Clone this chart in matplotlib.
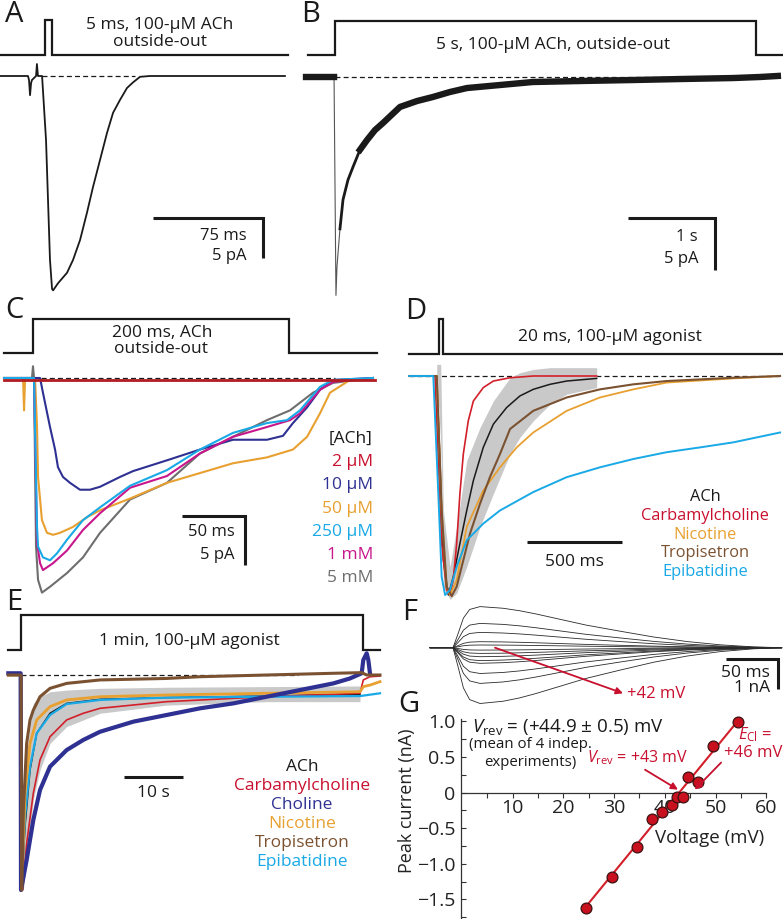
import numpy as np
import matplotlib.pyplot as plt

plt.rcParams['font.family'] = ['Open Sans', 'DejaVu Sans']
plt.rcParams['mathtext.fontset'] = 'custom'
plt.rcParams['mathtext.rm'] = 'Open Sans'
plt.rcParams['mathtext.it'] = 'Open Sans:italic'

# ---- data ----
# A: 5 ms pulse of ACh (ms, pA)
A_T = [-30.7, -11.6, -10.9, -10.2, -9.5, -8.9, -6.1, -5.5, -4.8, -2.0, 0.7, 3.4, 4.8, 5.5, 8.9,
       15.0, 19.1, 23.9, 28.6, 32.7, 37.5, 42.3, 46.4, 51.1, 55.9, 60.0, 64.8, 71.6, 163.6]
A_I = [0, 0, -0.5, -2.4, -0.9, -0.5, 0, 1.5, 0, 0, -8.0, -23.0, -26.6, -26.8, -25.9,
       -24.6, -23.0, -20.5, -17.1, -13.9, -10.5, -7.1, -4.6, -3.0, -1.5, -0.8, -0.1, 0, 0]
A_STIM = (0, 5)

# B: 5 s application (s, pA)
B_T = [-0.333, -0.011, 0.011, 0.023, 0.057, 0.092, 0.149, 0.207, 0.287, 0.368, 0.46, 0.552,
       0.747, 0.943, 1.126, 1.322, 1.517, 1.897, 2.276, 2.851, 3.425, 4.0, 4.575, 4.885, 5.09]
B_I = [0, 0, -21.0, -18.2, -14.6, -11.8, -9.9, -8.65, -7.0, -6.06, -5.1, -4.42,
       -2.88, -2.31, -1.92, -1.44, -1.06, -0.77, -0.48, -0.38, -0.29, -0.19, -0.1, 0.0, 0.1]
B_STIM = (0, 4.84)

# C: 200 ms ACh, several concentrations (ms, pA)
C_T_2 = [-23.0, 271.4]
C_I_2 = [-0.2, -0.2]
C_T_10 = [-23.0, 5.6, 7.9, 13.5, 17.5, 19.8, 23.8, 29.4, 37.3, 45.2, 53.2, 69.0, 79.4, 106.3,
          132.5, 158.7, 185.7, 198.4, 206.3, 217.5, 227.8, 238.1, 269.8]
C_I_10 = [0, 0, -1.5, -5.0, -7.3, -9.1, -10.1, -10.7, -11.4, -11.4, -11.1, -10.1, -9.5, -8.4,
          -7.3, -6.3, -6.3, -5.9, -4.6, -3.0, -1.2, -0.2, 0]
C_T_50 = [-23.0, -7.9, -7.1, -6.3, 1.6, 3.2, 4.0, 7.1, 11.1, 15.9, 21.4, 31.7, 42.9, 53.2, 77.0,
          106.3, 132.5, 158.7, 185.7, 206.3, 217.5, 227.8, 235.7, 251.6, 269.8]
C_I_50 = [0, 0, -3.3, 0, 0, -5.0, -10.1, -14.5, -15.8, -16.0, -15.8, -15.2, -14.2, -13.5, -12.3,
          -10.7, -9.7, -8.7, -8.1, -7.3, -6.0, -3.6, -1.5, -0.2, 0]
C_T_250 = [-23.0, 0.8, 3.2, 4.0, 7.9, 13.5, 19.0, 27.0, 39.7, 53.2, 77.0, 106.3, 132.5, 158.7,
           185.7, 201.6, 211.9, 227.8, 238.1, 269.8]
C_I_250 = [0, 0, -15.2, -17.2, -18.3, -18.6, -17.9, -16.5, -14.5, -13.2, -11.0, -9.4, -7.3, -5.6,
           -4.6, -4.3, -3.3, -0.9, -0.2, 0]
C_T_1000 = [-23.0, 0.8, 3.2, 5.6, 7.9, 15.9, 27.0, 39.7, 53.2, 77.0, 106.3, 132.5, 158.7, 185.7,
            204.0, 211.9, 227.8, 238.1, 269.8]
C_I_1000 = [0, 0, -16.8, -18.9, -19.6, -18.9, -17.6, -15.5, -13.8, -11.2, -10.0, -7.7, -6.0, -5.0,
            -4.3, -3.6, -1.2, -0.4, 0]
C_T_5000 = [-23.0, -0.8, 0, 0.8, 2.4, 4.0, 7.1, 13.5, 27.0, 39.7, 53.2, 77.0, 106.3, 132.5,
            158.7, 185.7, 204.0, 222.2, 238.1, 269.8]
C_I_5000 = [0, 0, 1.2, 0, -17.2, -20.6, -21.9, -21.3, -19.9, -18.3, -15.8, -12.4, -10.7, -7.7,
            -6.0, -4.3, -3.3, -1.5, -0.5, 0]
C_STIM = (0, 203)
C_LABELS = ['2 \u03bcM', '10 \u03bcM', '50 \u03bcM', '250 \u03bcM', '1 mM', '5 mM']

# D: 20 ms pulses of agonists, normalised current (ms)
D_T_ACH = [-156, -12, 5, 23, 49, 75, 110, 146, 181, 233, 286, 356, 426, 496, 584, 672, 830]
D_I_ACH = [0, 0, -0.386, -0.841, -1.0, -0.917, -0.765, -0.614, -0.477, -0.326, -0.22, -0.144,
           -0.091, -0.061, -0.038, -0.023, -0.011]
D_BAND_T = [-12, 9, 23, 58, 93, 146, 216, 286, 374, 426, 496, 584, 672, 830]
D_BAND_HI = [0.053, 0.053, -0.614, -0.871, -0.689, -0.386, -0.235, -0.114, -0.008, 0.015, 0.03,
             0.038, 0.038, 0.038]
D_BAND_LO = [0, -0.3, -0.962, -1.02, -0.992, -0.871, -0.689, -0.538, -0.356, -0.28, -0.205,
             -0.129, -0.083, -0.053]
D_T_CARB = [-156, -21, -3.5, 14, 40, 58, 75, 93, 110, 128, 154, 181, 233, 286, 374, 496, 830]
D_I_CARB = [0, 0, -0.386, -0.765, -0.977, -1.0, -0.932, -0.765, -0.538, -0.356, -0.205, -0.114,
            -0.053, -0.023, -0.008, 0, 0]
D_T_TROP = [-156, -12, 14, 40, 67, 93, 128, 163, 216, 268, 321, 374, 496, 672, 847, 1023, 1198,
            1549, 1795]
D_I_TROP = [0, 0, -0.614, -0.962, -1.005, -0.962, -0.841, -0.72, -0.583, -0.462, -0.356, -0.242,
            -0.159, -0.098, -0.061, -0.038, -0.023, -0.008, 0]
D_T_NIC = [-156, -12, 14, 40, 58, 93, 146, 233, 321, 409, 496, 672, 847, 1023, 1198, 1549, 1795]
D_I_NIC = [0, 0, -0.614, -0.962, -1.0, -0.932, -0.689, -0.523, -0.417, -0.326, -0.258, -0.159,
           -0.098, -0.061, -0.030, -0.011, 0]
D_T_EPI = [-156, -30, -3.5, 14, 32, 58, 93, 146, 233, 321, 496, 672, 847, 1023, 1198, 1374,
           1549, 1795]
D_I_EPI = [0, 0, -0.538, -0.917, -1.0, -0.977, -0.871, -0.75, -0.674, -0.614, -0.53, -0.462,
           -0.417, -0.379, -0.348, -0.326, -0.303, -0.258]
D_STIM = (0, 20)

# E: 1 min application, normalised current (s)
E_T_ACH = [-2.15, 0, 0.11, 0.68, 1.53, 2.66, 4.92, 7.74, 13.39, 24.69, 41.64, 57.46]
E_I_ACH = [0, 0, -1.0, -0.705, -0.442, -0.271, -0.178, -0.132, -0.113, -0.105, -0.098, -0.09]
E_BAND_T = [0.17, 0.40, 0.96, 2.09, 3.22, 4.92, 7.74, 13.39, 24.69, 41.64, 57.46]
E_BAND_HI = [-0.86, -0.628, -0.36, -0.132, -0.101, -0.078, -0.07, -0.062, -0.057, -0.054, -0.051]
E_BAND_LO = [-1.0, -1.0, -0.86, -0.581, -0.442, -0.318, -0.24, -0.178, -0.14, -0.124, -0.124]
E_T_CARB = [-2.15, 0, 0.28, 0.96, 2.09, 3.22, 4.92, 7.74, 10.56, 13.39, 24.69, 41.64, 57.46,
            58.02, 59.15, 60.85]
E_I_CARB = [0, 0, -1.0, -0.783, -0.55, -0.395, -0.287, -0.209, -0.178, -0.155, -0.124, -0.101,
            -0.085, -0.023, -0.008, -0.005]
E_T_CHO = [-2.15, -0.06, 0, 0.96, 2.09, 3.22, 4.92, 7.74, 10.56, 13.39, 19.04, 24.69, 30.34,
           35.99, 41.64, 47.29, 52.94, 55.76, 57.74, 58.02, 58.59, 58.87, 59.15]
E_I_CHO = [0.008, 0.008, -1.0, -0.86, -0.674, -0.535, -0.426, -0.349, -0.302, -0.264, -0.217,
           -0.186, -0.155, -0.132, -0.101, -0.07, -0.039, -0.016, 0.008, 0.07, 0.101, 0.07, 0.008]
E_T_NIC = [-2.15, 0, 0.11, 0.68, 1.53, 2.66, 4.92, 7.74, 13.39, 24.69, 41.64, 57.46, 58.02,
           59.15, 60.85]
E_I_NIC = [0, 0, -1.0, -0.55, -0.318, -0.209, -0.147, -0.116, -0.101, -0.093, -0.085, -0.078,
           -0.054, -0.047, -0.031]
E_T_TROP = [-2.15, 0, 0.11, 0.40, 0.96, 1.53, 2.09, 3.22, 4.92, 7.74, 13.39, 24.69, 30.34,
            41.64, 52.94, 57.74, 58.59, 60.85]
E_I_TROP = [0, 0, -1.0, -0.628, -0.318, -0.209, -0.163, -0.101, -0.062, -0.039, -0.023, -0.016,
            -0.008, 0, 0.008, 0.011, 0, 0]
E_T_EPI = [-2.15, 0, 0.056, 0.68, 1.53, 2.66, 4.92, 7.74, 13.39, 24.69, 41.64, 57.46, 60.85]
E_I_EPI = [0, 0, -1.0, -0.659, -0.426, -0.271, -0.186, -0.135, -0.116, -0.105, -0.101, -0.098,
           -0.085]
E_STIM = (0, 58)

AGONISTS_D = ['ACh', 'Carbamylcholine', 'Nicotine', 'Tropisetron', 'Epibatidine']
AGONISTS_E = ['ACh', 'Carbamylcholine', 'Choline', 'Nicotine', 'Tropisetron', 'Epibatidine']

# F: voltage-step family (ms, nA): common time course and peak of each sweep
F_T = [-22, 0, 5, 10, 16, 26, 48, 64, 80, 96, 128, 161, 193, 225, 257, 289, 316]
F_SHAPE = [0, 0, 0.35, 0.72, 0.93, 1.0, 0.96, 0.9, 0.82, 0.73, 0.55, 0.4, 0.26, 0.15, 0.07,
           0.02, 0]
F_PEAKS = [1.37, 0.81, 0.51, 0.2, 0.09, -0.08, -0.19, -0.3, -0.43, -0.52, -0.86, -1.19, -1.86]

# G: peak I-V relation
G_V = [24.5, 29.5, 34.5, 37.5, 39.5, 41.5, 42.5, 43.5, 44.5, 46.5, 49.5, 54.5]
G_I = [-1.62, -1.19, -0.77, -0.37, -0.28, -0.18, -0.06, -0.06, 0.22, 0.15, 0.65, 0.99]
FIT_V = [23.9, 54.8]
FIT_I = [-1.65, 1.04]

# ---- colours ----
NAVY = '#2e3192'
ORANGE = '#e8a030'
CYAN = '#19a9e6'
MAGENTA = '#c8168c'
GRAY5 = '#6e6e6e'
DKRED = '#b01c22'
RED = '#d21f2a'
BROWN = '#7b5231'
BAND = '#c9c9c9'
TRED = '#c8102e'
INK = '#1a1a1a'

W, H = 783, 919
fig = plt.figure(figsize=(W / 100, H / 100), dpi=100)


def panel(box, origin, scale):
    x0, y0, x1, y1 = box
    ox, oy = origin
    sx, sy = scale
    ax = fig.add_axes([x0 / W, 1 - y1 / H, (x1 - x0) / W, (y1 - y0) / H])
    ax.set_xlim((x0 - ox) / sx, (x1 - ox) / sx)
    ax.set_ylim((oy - y1) / sy, (oy - y0) / sy)
    ax.axis('off')
    ax.px = lambda x: (x - ox) / sx
    ax.py = lambda y: (oy - y) / sy
    return ax


def stim(ax, on_off, xfrom, xto, ylo, yhi):
    lo, hi = ax.py(ylo), ax.py(yhi)
    t0, t1 = on_off
    ax.plot([ax.px(xfrom), t0, t0, t1, t1, ax.px(xto)], [lo, lo, hi, hi, lo, lo],
            color=INK, lw=1.6, solid_joinstyle='miter')


def scalebar(ax, t0, i0, dt, di=None):
    if di is None:
        ax.plot([t0, t0 + dt], [i0, i0], color=INK, lw=2.2, solid_capstyle='butt')
    else:
        ax.plot([t0, t0 + dt, t0 + dt], [i0, i0, i0 - di], color=INK, lw=2.2,
                solid_joinstyle='miter', solid_capstyle='butt')


def dashed(ax, t0, t1):
    ax.plot([t0, t1], [0, 0], color=INK, lw=0.9, ls=(0, (4, 2.5)), zorder=1)


def txt(x, y, s, size=12.5, color=INK, ha='center', **kw):
    fig.text(x / W, 1 - y / H, s, fontsize=size, color=color, ha=ha, va='center', **kw)


LETTER = 21

# ---- A ----
ax = panel((0, 0, 295, 300), (45, 76), (1.4667, 8))
stim(ax, A_STIM, 0, 288, 55, 20)
dashed(ax, -2.0, 61.4)
ax.plot(A_T, A_I, color=INK, lw=1.3)
scalebar(ax, 73.6, -17.75, 75, 5)
txt(14, 15, 'A', size=LETTER)
txt(160, 25, '5 ms, 100-\u03bcM ACh')
txt(160, 42, 'outside-out')
txt(247, 236, '75 ms', ha='right', size=12)
txt(247, 256, '5 pA', ha='right', size=12)

# ---- B ----
ax = panel((300, 0, 783, 300), (335, 77), (87, 10.4))
stim(ax, B_STIM, 308, 782, 55, 21)
dashed(ax, 0, 4.0)
bt = np.array(B_T)
bi = np.array(B_I)
ax.plot(bt, bi, color='#555555', lw=0.8)
keep = (bt < 0) | (bt > 0.05)
ax.plot(np.where(keep, bt, np.nan), bi, color=INK, lw=2.0)
late = (bt < 0) | (bt > 0.25)
ax.plot(np.where(late, bt, np.nan), bi, color=INK, lw=4.6)
scalebar(ax, 3.368, -13.56, 1, 5)
txt(311, 15, 'B', size=LETTER)
txt(553, 45, '5 s, 100-\u03bcM ACh, outside-out')
txt(698, 237, '1 s', ha='right', size=12)
txt(698, 259, '5 pA', ha='right', size=12)

# ---- C ----
ax = panel((0, 280, 390, 600), (33, 378), (1.26, 9.8))
stim(ax, C_STIM, 4, 377, 353, 319)
dashed(ax, 0, 240)
for t, i, c in [(C_T_5000, C_I_5000, GRAY5), (C_T_50, C_I_50, ORANGE), (C_T_10, C_I_10, NAVY),
                (C_T_1000, C_I_1000, MAGENTA), (C_T_250, C_I_250, CYAN), (C_T_2, C_I_2, DKRED)]:
    ax.plot(t, i, color=c, lw=1.5 if c != DKRED else 2.0)
scalebar(ax, 118.3, -14.08, 50, 5)
txt(14, 311, 'C', size=LETTER)
txt(162, 333, '200 ms, ACh')
txt(161, 349, 'outside-out')
txt(235, 532, '50 ms', ha='right', size=12)
txt(235, 555, '5 pA', ha='right', size=12)
txt(373, 439, '[ACh]', ha='right')
for k, (lab, c) in enumerate(zip(C_LABELS, [TRED, NAVY, ORANGE, CYAN, MAGENTA, GRAY5])):
    txt(373, 462 + 23.3 * k, lab, color=c, ha='right')

# ---- D ----
ax = panel((390, 280, 783, 605), (439, 376), (0.19, 219))
stim(ax, D_STIM, 409, 782, 354, 319)
dashed(ax, ax.px(409), ax.px(780))
ax.fill_between(D_BAND_T, D_BAND_LO, D_BAND_HI, color=BAND, lw=0)
ax.plot(D_T_ACH, D_I_ACH, color=INK, lw=1.1)
ax.plot(D_T_CARB, D_I_CARB, color=RED, lw=1.2)
ax.plot(D_T_NIC, D_I_NIC, color=ORANGE, lw=1.3)
ax.plot(D_T_TROP, D_I_TROP, color=BROWN, lw=1.5)
ax.plot(D_T_EPI, D_I_EPI, color=CYAN, lw=1.4)
scalebar(ax, 461.6, -0.757, 500)
txt(416, 312, 'D', size=LETTER)
txt(610, 337, '20 ms, 100-\u03bcM agonist')
txt(574, 562, '500 ms')
for k, (lab, c) in enumerate(zip(AGONISTS_D, [INK, TRED, ORANGE, BROWN, CYAN])):
    txt(705, 497 + 18.8 * k, lab, color=c, size=11.8)

# ---- E ----
ax = panel((0, 590, 395, 905), (21, 675), (5.9, 215))
stim(ax, E_STIM, 8, 380, 650, 615)
dashed(ax, 0, 47)
ax.fill_between(E_BAND_T, E_BAND_LO, E_BAND_HI, color=BAND, lw=0)
ax.plot(E_T_ACH, E_I_ACH, color=INK, lw=1.1)
ax.plot(E_T_CARB, E_I_CARB, color=RED, lw=1.2)
ax.plot(E_T_EPI, E_I_EPI, color=CYAN, lw=1.6)
ax.plot(E_T_NIC, E_I_NIC, color=ORANGE, lw=2.0)
ax.plot(E_T_CHO, E_I_CHO, color=NAVY, lw=3.0)
ax.plot(E_T_TROP, E_I_TROP, color=BROWN, lw=2.2)
scalebar(ax, 17.46, -0.473, 10)
txt(14, 602, 'E', size=LETTER)
txt(189, 641, '1 min, 100-\u03bcM agonist')
txt(153, 793, '10 s')
for k, (lab, c) in enumerate(zip(AGONISTS_E, [INK, TRED, NAVY, ORANGE, BROWN, CYAN])):
    txt(302, 767 + 19 * k, lab, color=c)

# ---- F ----
ax = panel((420, 595, 783, 712), (453, 647.7), (1.04, 30))
shape = np.array(F_SHAPE)
for pk in F_PEAKS:
    ax.plot(F_T, pk * shape, color='#2a2a2a', lw=0.6)
scalebar(ax, 262.5, -0.377, 50, 1)
ax.annotate('', xy=(163.5, -1.52), xytext=(40.4, 0),
            arrowprops=dict(arrowstyle='-|>', color=TRED, lw=1.3, mutation_scale=10,
                            shrinkA=0, shrinkB=0))
txt(410, 613, 'F', size=LETTER)
txt(627, 694, '+42 mV', color=TRED, ha='left', size=12)
txt(770, 673, '50 ms', ha='right')
txt(770, 688, '1 nA', ha='right')

# ---- G ----
gx0, gy0, gx1, gy1 = 461, 712, 783, 919
gax = fig.add_axes([gx0 / W, 1 - gy1 / H, (gx1 - gx0) / W, (gy1 - gy0) / H])
gax.set_facecolor('none')
gax.set_xlim((gx0 - 462) / 5.07, (gx1 - 462) / 5.07)
gax.set_ylim((792.5 - gy1) / 71.2, (792.5 - gy0) / 71.2)
for s in ['top', 'right']:
    gax.spines[s].set_visible(False)
gax.spines['bottom'].set_position(('data', 0))
gax.spines['bottom'].set_bounds(0, 60)
gax.spines['left'].set_bounds(gax.get_ylim()[0], 1.03)
for s in ['bottom', 'left']:
    gax.spines[s].set_linewidth(0.9)
    gax.spines[s].set_color('#333333')
gax.set_xticks([10, 20, 30, 40, 50, 60])
gax.set_xticks([5, 15, 25, 35, 45, 55], minor=True)
gax.set_yticks([-1.5, -1.0, -0.5, 0, 0.5, 1.0])
gax.set_yticklabels(['\u22121.5', '\u22121.0', '\u22120.5', '0', '0.5', '1.0'])
gax.set_yticks([-1.75, -1.25, -0.75, -0.25, 0.25, 0.75], minor=True)
gax.tick_params(axis='x', which='both', direction='out', length=3.5, width=0.8,
                labelsize=14, pad=1.5, colors='#333333', labelcolor='#222222')
gax.tick_params(axis='y', which='both', direction='in', length=3.5, width=0.8,
                labelsize=14, pad=4, colors='#333333', labelcolor='#222222')
gax.plot(FIT_V, FIT_I, color=RED, lw=1.5, zorder=2)
gax.plot(G_V, G_I, 'o', ms=7.8, mfc='#c8101e', mec='#3a1212', mew=0.9, zorder=3)
arrow = dict(arrowstyle='-|>', color=TRED, lw=1.3, mutation_scale=10, shrinkA=0, shrinkB=0)
gax.annotate('', xy=(42.6, 0.04), xytext=(36.1, 0.32), arrowprops=arrow)
gax.annotate('', xy=(45.9, 0.04), xytext=(51.1, 0.42), arrowprops=arrow)
txt(409, 705, 'G', size=LETTER)
txt(472, 727, r'$V_{\mathrm{rev}}$ = (+44.9 $\pm$ 0.5) mV', ha='left', size=13.5)
txt(530, 745, '(mean of 4 indep.', size=10.8)
txt(530, 762, 'experiments)', size=10.8)
txt(638, 758, r'$V_{\mathrm{rev}}$ = +43 mV', color=TRED, size=11.5)
txt(755, 735, r'$E_{\mathrm{Cl}}$ =', color=TRED, size=12)
txt(753, 753, '+46 mV', color=TRED, size=12)
txt(710, 838, 'Voltage (mV)', size=13.5, color='#222222')
txt(407, 801, 'Peak current (nA)', size=13, color='#222222', rotation=90)

fig.savefig('out.png', dpi=100)
